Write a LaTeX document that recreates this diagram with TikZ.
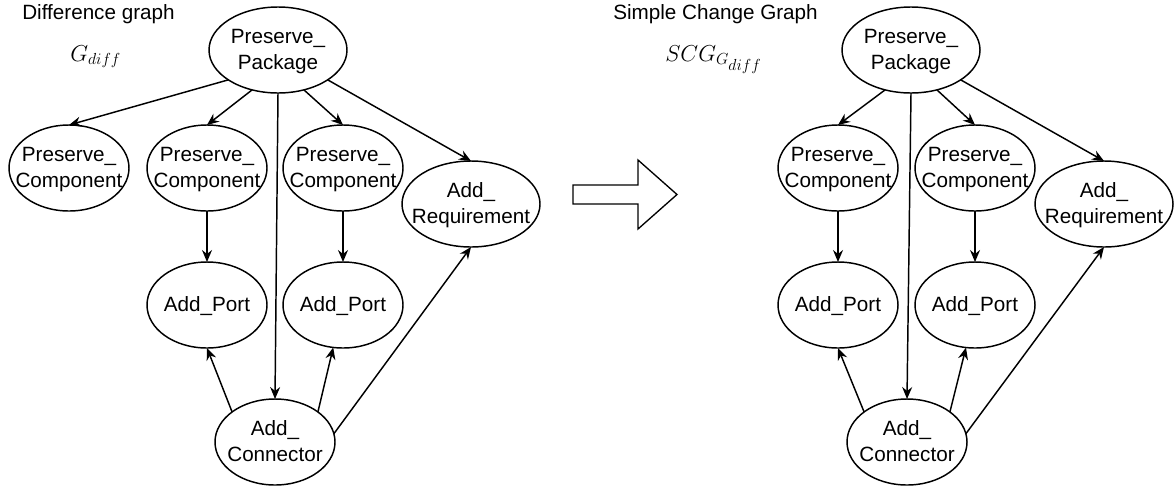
\documentclass[tikz,border=0pt]{standalone}
\usepackage{fontspec}
\setmainfont{Liberation Sans}
\usetikzlibrary{shapes.geometric,arrows.meta}

% zero-size, centred text block so the ellipse keeps its fixed size
\newcommand\ctext[1]{\raisebox{-2pt}{\vbox to 0pt{\vss\hbox to 0pt{\hss\begin{tabular}{@{}c@{}}#1\end{tabular}\hss}\vss}}}

\tikzset{
  gnode/.style={ellipse, draw, line width=1.1pt, inner sep=0pt, outer sep=0pt,
    minimum width=90pt, minimum height=64.5pt,
    font=\fontsize{15.5pt}{19.5pt}\selectfont},
  wnode/.style={gnode, minimum width=103.5pt},
  edge/.style={line width=1.1pt, -{Stealth[length=9pt,width=7.5pt,inset=3pt]}},
  title/.style={anchor=base west, inner sep=0pt, font=\fontsize{15.5pt}{18pt}\selectfont},
  mathlbl/.style={anchor=base west, inner sep=0pt, font=\fontsize{17pt}{20pt}\selectfont},
}

\begin{document}
\begin{tikzpicture}[x=0.75pt,y=-0.75pt]
\useasboundingbox (0,0) rectangle (1176,490);

% ---------- difference graph ----------
\node[title] (t1) at (22,19) {Difference graph};
\node[mathlbl] (m1) at (70,61.5) {$G_{\scriptstyle diff}$};

\node[wnode] (pp)  at (278,50)  {\ctext{Preserve\_\\Package}};
\node[gnode] (pc1) at (69,168)  {\ctext{Preserve\_\\Component}};
\node[gnode] (pc2) at (207,168) {\ctext{Preserve\_\\Component}};
\node[gnode] (pc3) at (343,168) {\ctext{Preserve\_\\Component}};
\node[wnode] (ar)  at (471,204) {\ctext{Add\_\\Requirement}};
\node[gnode] (ap1) at (207,305) {\ctext{Add\_Port}};
\node[gnode] (ap2) at (343,305) {\ctext{Add\_Port}};
\node[gnode] (ac)  at (275,442) {\ctext{Add\_\\Connector}};

\draw[edge] (pp.211) -- (pc1.north);
\draw[edge] (pp.237) -- (pc2.north);
\draw[edge] (pp.south) -- (ac.north);
\draw[edge] (pp.303) -- (pc3.north);
\draw[edge] (pp.329) -- (ar.north);
\draw[edge] (pc2.south) -- (ap1.north);
\draw[edge] (pc3.south) -- (ap2.north);
\draw[edge] (ac.145) -- (ap1.south);
\draw[edge] (ac.35) -- (ap2.257);
\draw[edge] (ac.8) -- (ar.south);

% ---------- transformation arrow ----------
\draw[line width=1pt] (573,185) -- (638,185) -- (638,160) -- (677,194.5)
  -- (638,229) -- (638,204) -- (573,204) -- cycle;

% ---------- simple change graph ----------
\node[title] (t2) at (613,19) {Simple Change Graph};
\node[mathlbl] (m2) at (665,61.5) {$SCG_{G_{\scriptstyle diff}}$};

\node[wnode] (qp)  at (911,50)   {\ctext{Preserve\_\\Package}};
\node[gnode] (qc1) at (838,168)  {\ctext{Preserve\_\\Component}};
\node[gnode] (qc2) at (975,168)  {\ctext{Preserve\_\\Component}};
\node[wnode] (qr)  at (1104,204) {\ctext{Add\_\\Requirement}};
\node[gnode] (qa1) at (838,305)  {\ctext{Add\_Port}};
\node[gnode] (qa2) at (975,305)  {\ctext{Add\_Port}};
\node[gnode] (qc)  at (907,442)  {\ctext{Add\_\\Connector}};

\draw[edge] (qp.237) -- (qc1.north);
\draw[edge] (qp.south) -- (qc.north);
\draw[edge] (qp.303) -- (qc2.north);
\draw[edge] (qp.329) -- (qr.north);
\draw[edge] (qc1.south) -- (qa1.north);
\draw[edge] (qc2.south) -- (qa2.north);
\draw[edge] (qc.145) -- (qa1.south);
\draw[edge] (qc.35) -- (qa2.258);
\draw[edge] (qc.8) -- (qr.south);
\end{tikzpicture}
\end{document}
